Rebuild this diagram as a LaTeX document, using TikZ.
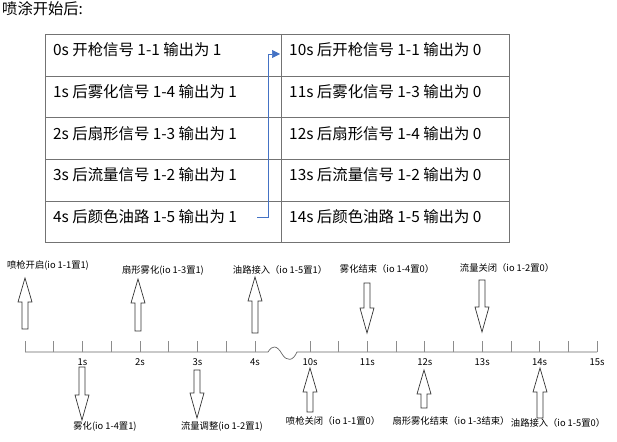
\documentclass[tikz,border=0pt]{standalone}
\usepackage{fontspec}
\setmainfont{Noto Sans CJK SC}
\usetikzlibrary{arrows.meta}

\definecolor{flowblue}{HTML}{4472C4}

\begin{document}
\begin{tikzpicture}[x=1pt, y=-1pt,
    cell/.style={anchor=west, inner sep=0pt, font=\fontsize{15.4}{17}\selectfont},
    rule/.style={draw=black!55, line width=0.9pt},
    flow/.style={flowblue, line width=0.7pt, -{Triangle[length=8pt,width=8pt]}},
    axisline/.style={black!60, line width=0.7pt},
    tick/.style={black!45, line width=0.7pt},
    ticklab/.style={inner sep=0pt, font=\fontsize{9.5}{11}\selectfont},
    evlab/.style={inner sep=0pt, font=\fontsize{9.3}{11}\selectfont},
    blockarr/.style={draw=black!80, fill=white, line width=0.7pt, line join=miter}]
  \useasboundingbox (0,0) rectangle (617,441);

  \node[anchor=west, inner sep=0pt, font=\fontsize{15.3}{17}\selectfont] (title) at (2,9) {喷涂开始后:};

  % 表格
  \draw[rule] (45,34) rectangle (509,242);
  \draw[rule] (281,34) -- (281,242);
  \foreach \y in {76,117,159,201}
    \draw[rule] (45,\y) -- (509,\y);

  \node[cell] (l0) at (53,50)  {0s 开枪信号 1-1 输出为 1};
  \node[cell] (l1) at (53,92)  {1s 后雾化信号 1-4 输出为 1};
  \node[cell] (l2) at (53,134) {2s 后扇形信号 1-3 输出为 1};
  \node[cell] (l3) at (53,175) {3s 后流量信号 1-2 输出为 1};
  \node[cell] (l4) at (53,217) {4s 后颜色油路 1-5 输出为 1};
  \node[cell] (r0) at (289,50)  {10s 后开枪信号 1-1 输出为 0};
  \node[cell] (r1) at (289,92)  {11s 后雾化信号 1-3 输出为 0};
  \node[cell] (r2) at (289,134) {12s 后扇形信号 1-4 输出为 0};
  \node[cell] (r3) at (289,175) {13s 后流量信号 1-2 输出为 0};
  \node[cell] (r4) at (289,217) {14s 后颜色油路 1-5 输出为 0};

  \coordinate (bs) at (257,217);
  \coordinate (bm) at (268,54);
  \coordinate (be) at (280,54);
  \draw[flow] (bs) -| (bm) -- (be);

  % 时间轴
  \draw[axisline] (25,352) -- (268,352)
    .. controls (272,345) and (277,345) .. (282,354)
    .. controls (287,362) and (293,361) .. (297,352) -- (597,352);
  \foreach \k in {0,...,8}
    \draw[tick] ({25+28.75*\k},352) -- ++(0,-11);
  \foreach \k in {0,...,10}
    \draw[tick] ({310+28.7*\k},352) -- ++(0,-11);

  \foreach \s in {1,...,4}
    \node[ticklab] (s\s) at ({25+57.5*\s},362) {\s s};
  \foreach \s in {10,...,15}
    \node[ticklab] (s\s) at ({310+57.4*(\s-10)},362) {\s s};

  % 向上箭头
  \foreach \x/\t/\b in {25/278/329, 138/279/331, 255/277/333, 310/368/412, 424/370/408, 540/368/418}
    \draw[blockarr] (\x-3,\b) -- (\x-3,\t+24) -- (\x-7,\t+24) -- (\x,\t)
      -- (\x+7,\t+24) -- (\x+3,\t+24) -- (\x+3,\b) -- cycle;
  % 向下箭头
  \foreach \x/\t/\p in {367/283/333, 482/280/332, 82/367/420, 197/370/418}
    \draw[blockarr] (\x-3,\t) -- (\x-3,\p-25) -- (\x-7,\p-25) -- (\x,\p)
      -- (\x+7,\p-25) -- (\x+3,\p-25) -- (\x+3,\t) -- cycle;

  \node[evlab] (e0)  at (48,265)  {喷枪开启(io 1-1置1)};
  \node[evlab] (e1)  at (105,426) {雾化(io 1-4置1)};
  \node[evlab] (e2)  at (163,270) {扇形雾化(io 1-3置1)};
  \node[evlab] (e3)  at (222,426) {流量调整(io 1-2置1)};
  \node[evlab] (e4)  at (280,270) {油路接入（io 1-5置1）};
  \node[evlab] (e10) at (333,421) {喷枪关闭（io 1-1置0）};
  \node[evlab] (e11) at (387,269) {雾化结束（io 1-4置0）};
  \node[evlab] (e12) at (451,421) {扇形雾化结束（io 1-3结束）};
  \node[evlab] (e13) at (507,268) {流量关闭（io 1-2置0）};
  \node[evlab] (e14) at (558,423) {油路接入（io 1-5置0）};
\end{tikzpicture}
\end{document}
